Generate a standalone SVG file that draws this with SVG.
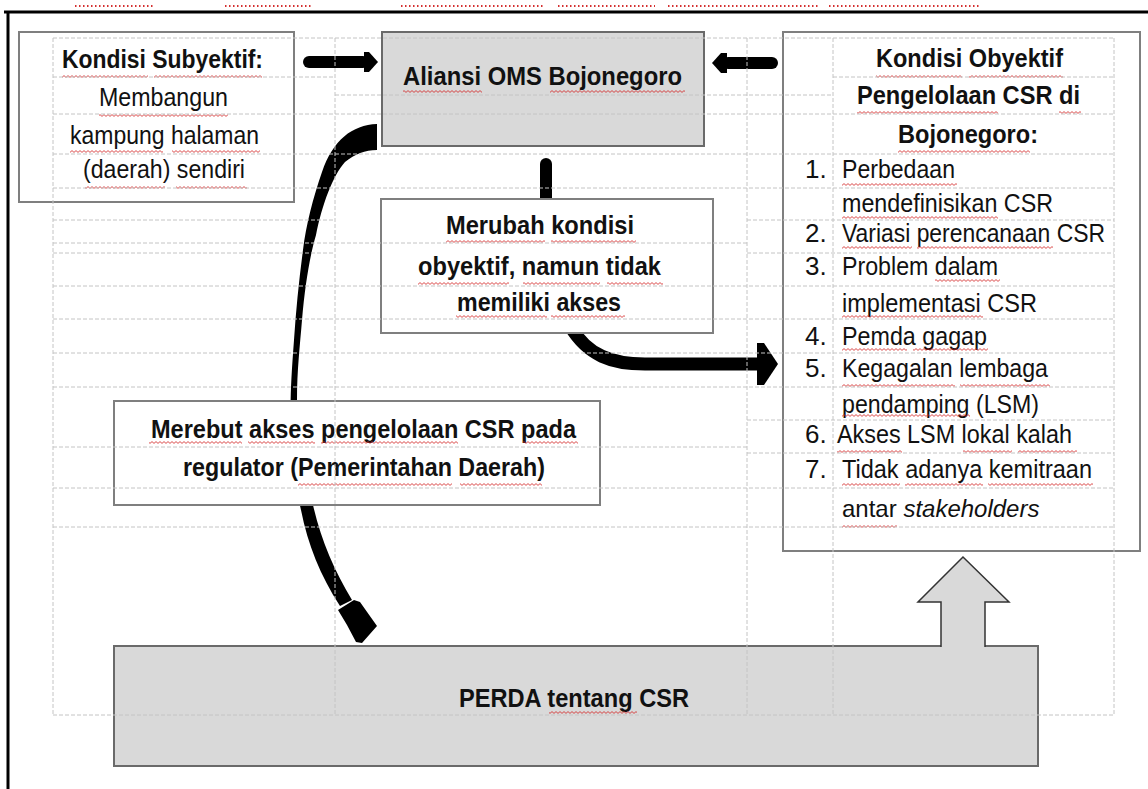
<svg xmlns="http://www.w3.org/2000/svg" width="1148" height="789" viewBox="0 0 1148 789">
<style>
.t{font-family:"Liberation Sans Narrow","Arial Narrow","Liberation Sans",Arial,sans-serif;font-size:26px;fill:#111}
.b{font-weight:bold}
.i{font-style:italic}
.box{fill:#fff;stroke:#7f7f7f;stroke-width:2}
.gbox{fill:#d9d9d9;stroke:#6a6a6a;stroke-width:2}
.grid{fill:none;stroke:#c4c4c4;stroke-width:1;stroke-dasharray:4 2}
.sq{fill:url(#wave)}
.ink{fill:#000}
</style>
<defs>
<pattern id="wave" width="4" height="3" patternUnits="userSpaceOnUse">
<path d="M0,0.6 L2,2.4 L4,0.6" fill="none" stroke="#d02020" stroke-width="0.8"/>
</pattern>
</defs>
<rect width="1148" height="789" fill="#fff"/>
<g id="frame">
<path d="M4,12 H1148 M8,12 V789" fill="none" stroke="#000" stroke-width="3"/>
<path d="M75,6 H155 M225,6 H313 M401,6 H545 M558,6 H655 M668,6 H818 M829,6 H980" fill="none" stroke="#d43030" stroke-width="2" stroke-dasharray="1.5 2.5"/>
</g>
<g id="node-perda">
<rect x="114" y="646" width="924" height="120" class="gbox" stroke="#777"/>
<text class="t b" x="459" y="707" textLength="230" lengthAdjust="spacingAndGlyphs">PERDA tentang CSR</text>
<rect class="sq" x="549" y="711" width="88" height="3"/>
</g>
<g id="connectors">
<rect class="ink" x="303" y="56" width="66" height="12" rx="6"/>
<polygon class="ink" points="364,52 369,52 378,62 369,72 364,72"/>
<polygon class="ink" points="712,63 721,53 727,53 727,73 721,73"/>
<rect class="ink" x="722" y="57" width="56" height="12" rx="6"/>
<path class="ink" d="M540,200 L540,164 A6,6 0 0 1 552,164 L552,200 Z"/>
<path class="ink" d="M377,124 C352,125 333,140 322,172 C313,198 306,225 303,250 C299,280 296,310 294,340 C291,380 290,400 291,425 C292,460 296,490 301,510 C308,545 320,575 340,606 L352,600 C334,570 321,540 313,505 C306,475 298,440 297,400 C297,370 300,345 302,320 C305,285 310,255 316,235 C322,205 333,175 345,162 C355,154 365,150 377,150 Z"/>
<polygon class="ink" points="338,610 354,600 360,602 377,626 362,643 356,642 347,625"/>
<path d="M570,326 C588,356 612,364 645,364 L762,364" fill="none" stroke="#000" stroke-width="13"/>
<polygon class="ink" points="757,343 764,343 778,364 764,385 757,385"/>
<polygon points="941,650 941,602 918,602 963,557 1009,602 985,602 985,650" fill="#d9d9d9"/>
<polyline points="941,647 941,602 918,602 963,557 1009,602 985,602 985,647" fill="none" stroke="#333" stroke-width="1.5" stroke-linejoin="miter"/>
</g>
<g id="node-subyektif">
<rect x="19" y="32" width="275" height="170" class="box"/>
<text class="t b" x="62" y="68" textLength="201" lengthAdjust="spacingAndGlyphs">Kondisi Subyektif:</text>
<text class="t" x="99" y="106" textLength="129" lengthAdjust="spacingAndGlyphs">Membangun</text>
<text class="t" x="70" y="144" textLength="189" lengthAdjust="spacingAndGlyphs">kampung halaman</text>
<text class="t" x="83" y="178" textLength="162" lengthAdjust="spacingAndGlyphs">(daerah) sendiri</text>
<rect class="sq" x="62" y="75" width="86" height="3"/><rect class="sq" x="154" y="75" width="108" height="3"/>
<rect class="sq" x="99" y="114" width="129" height="3"/>
<rect class="sq" x="70" y="150" width="93" height="3"/><rect class="sq" x="172" y="150" width="88" height="3"/>
<rect class="sq" x="85" y="186" width="80" height="3"/><rect class="sq" x="176" y="186" width="71" height="3"/>
</g>
<g id="node-aliansi">
<rect x="382" y="32" width="322" height="114" class="gbox"/>
<text class="t b" x="403" y="85" textLength="279" lengthAdjust="spacingAndGlyphs">Aliansi OMS Bojonegoro</text>
<rect class="sq" x="403" y="90" width="79" height="3"/><rect class="sq" x="550" y="90" width="135" height="3"/>
</g>
<g id="node-obyektif">
<rect x="783" y="32" width="357" height="519" class="box" stroke="#777"/>
<text class="t b" x="876" y="67" textLength="187" lengthAdjust="spacingAndGlyphs">Kondisi Obyektif</text>
<text class="t b" x="857" y="104" textLength="223" lengthAdjust="spacingAndGlyphs">Pengelolaan CSR di</text>
<text class="t b" x="898" y="143" textLength="140" lengthAdjust="spacingAndGlyphs">Bojonegoro:</text>
<text class="t" x="805" y="178">1.</text>
<text class="t" x="842" y="178" textLength="113" lengthAdjust="spacingAndGlyphs">Perbedaan</text>
<text class="t" x="842" y="212" textLength="211" lengthAdjust="spacingAndGlyphs">mendefinisikan CSR</text>
<text class="t" x="805" y="242">2.</text>
<text class="t" x="842" y="242" textLength="263" lengthAdjust="spacingAndGlyphs">Variasi perencanaan CSR</text>
<text class="t" x="805" y="275">3.</text>
<text class="t" x="842" y="275" textLength="156" lengthAdjust="spacingAndGlyphs">Problem dalam</text>
<text class="t" x="842" y="312" textLength="195" lengthAdjust="spacingAndGlyphs">implementasi CSR</text>
<text class="t" x="805" y="345">4.</text>
<text class="t" x="842" y="345" textLength="145" lengthAdjust="spacingAndGlyphs">Pemda gagap</text>
<text class="t" x="805" y="377">5.</text>
<text class="t" x="842" y="377" textLength="206" lengthAdjust="spacingAndGlyphs">Kegagalan lembaga</text>
<text class="t" x="842" y="413" textLength="197" lengthAdjust="spacingAndGlyphs">pendamping (LSM)</text>
<text class="t" x="805" y="443">6.</text>
<text class="t" x="837" y="443" textLength="235" lengthAdjust="spacingAndGlyphs">Akses LSM lokal kalah</text>
<text class="t" x="805" y="478">7.</text>
<text class="t" x="842" y="478" textLength="250" lengthAdjust="spacingAndGlyphs">Tidak adanya kemitraan</text>
<text class="t" x="842" y="517" style="font-size:24px">antar <tspan class="i">stakeholders</tspan></text>
<rect class="sq" x="876" y="75" width="86" height="3"/><rect class="sq" x="969" y="75" width="94" height="3"/>
<rect class="sq" x="857" y="111" width="141" height="3"/><rect class="sq" x="1059" y="111" width="22" height="3"/>
<rect class="sq" x="898" y="150" width="132" height="3"/>
<rect class="sq" x="842" y="183" width="115" height="3"/>
<rect class="sq" x="842" y="216" width="156" height="3"/>
<rect class="sq" x="842" y="246" width="70" height="3"/><rect class="sq" x="917" y="246" width="136" height="3"/>
<rect class="sq" x="935" y="279" width="65" height="3"/>
<rect class="sq" x="842" y="315" width="141" height="3"/>
<rect class="sq" x="842" y="348" width="65" height="3"/><rect class="sq" x="913" y="348" width="75" height="3"/>
<rect class="sq" x="842" y="384" width="113" height="3"/><rect class="sq" x="960" y="384" width="90" height="3"/>
<rect class="sq" x="842" y="414" width="128" height="3"/>
<rect class="sq" x="837" y="450" width="65" height="3"/><rect class="sq" x="963" y="450" width="49" height="3"/><rect class="sq" x="1018" y="450" width="59" height="3"/>
<rect class="sq" x="842" y="483" width="58" height="3"/><rect class="sq" x="905" y="483" width="78" height="3"/><rect class="sq" x="988" y="483" width="105" height="3"/>
<rect class="sq" x="842" y="525" width="55" height="3"/>
</g>
<g id="node-merubah">
<rect x="381" y="199" width="332" height="134" class="box"/>
<text class="t b" x="446" y="234" textLength="188" lengthAdjust="spacingAndGlyphs">Merubah kondisi</text>
<text class="t b" x="418" y="275" textLength="243" lengthAdjust="spacingAndGlyphs">obyektif, namun tidak</text>
<text class="t b" x="457" y="311" textLength="164" lengthAdjust="spacingAndGlyphs">memiliki akses</text>
<rect class="sq" x="446" y="240" width="99" height="3"/><rect class="sq" x="551" y="240" width="85" height="3"/>
<rect class="sq" x="418" y="282" width="91" height="3"/><rect class="sq" x="523" y="282" width="77" height="3"/><rect class="sq" x="607" y="282" width="56" height="3"/>
<rect class="sq" x="456" y="315" width="91" height="3"/><rect class="sq" x="551" y="315" width="74" height="3"/>
</g>
<g id="node-merebut">
<rect x="114" y="401" width="486" height="104" class="box"/>
<text class="t b" x="151" y="438" textLength="425" lengthAdjust="spacingAndGlyphs">Merebut akses pengelolaan CSR pada</text>
<text class="t b" x="183" y="476" textLength="362" lengthAdjust="spacingAndGlyphs">regulator (Pemerintahan Daerah)</text>
<rect class="sq" x="149" y="441" width="93" height="3"/><rect class="sq" x="248" y="441" width="67" height="3"/><rect class="sq" x="321" y="441" width="137" height="3"/><rect class="sq" x="523" y="441" width="55" height="3"/>
<rect class="sq" x="298" y="483" width="154" height="3"/><rect class="sq" x="460" y="483" width="82" height="3"/>
</g>
<g id="gridlines">
<path class="grid" d="M53,38 V715 M335,38 V715 M747,38 V715 M833,38 V715 M1114,38 V715"/>
<path class="grid" d="M53,38 H1114 M53,114 H1114 M53,154 H1114 M53,188 H1114 M53,286 H1114 M53,319 H1114 M53,353 H1114 M53,387 H1114 M53,488 H1114 M53,527 H1114 M53,715 H1114"/>
<path class="grid" d="M53,77 H335 M833,77 H1114 M335,95 H833 M53,220 H335 M747,220 H1114 M53,243 H747 M53,253 H335 M747,253 H1114 M747,420 H1114 M53,447 H747 M747,453 H1114"/>
</g>
</svg>
